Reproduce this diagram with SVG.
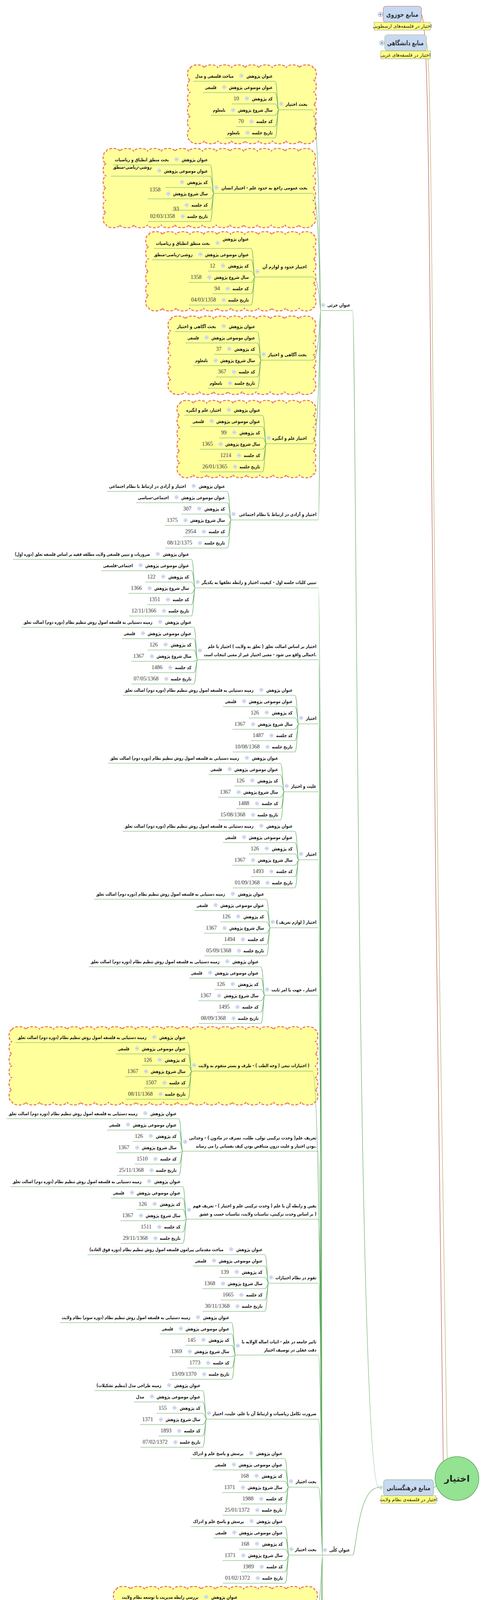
<svg xmlns="http://www.w3.org/2000/svg" width="1252" height="6545" viewBox="0 0 1252 6545">
<style>
.k{fill:none;stroke:#62ac62;stroke-width:1.2}
.cl{fill:#ffff9c;stroke:#ec7350;stroke-width:2.6;stroke-dasharray:7 4}
text{font-family:"DejaVu Sans",sans-serif;fill:#1a1a1a}
.l,.v,.t{font-size:11.5px;font-weight:bold;text-anchor:end}
.n{font-family:"Liberation Serif",serif;font-size:14px;text-anchor:end;fill:#333}
.h{font-size:17px;font-weight:bold;text-anchor:middle;fill:#333}
.o{font-size:12px;text-anchor:middle}
.r{font-size:23px;font-weight:bold;text-anchor:middle;fill:#222}
</style>
<defs>
<g id="m"><circle r="4.5" fill="#e2eaf8" stroke="#9cb3db" stroke-width="0.8"/><path d="M-2.2,0H2.2" stroke="#5a7bb5"/></g>
<g id="p"><circle r="6" fill="#e2eaf8" stroke="#7f9ccc"/><path d="M-3,0H3M0,-3V3" stroke="#3d5f9e" stroke-width="1.2"/></g>
<g id="ri"><use href="#m" x="-96" y="-73"/><use href="#m" x="-140" y="-44"/><use href="#m" x="-82" y="-15"/><use href="#m" x="-117" y="15"/><use href="#m" x="-70" y="44"/><use href="#m" x="-80" y="73"/></g>
<path id="b14" class="k" d="M-10,-59C-4,-59 -4,14 0,14M-10,-30C-4,-30 -4,14 0,14M-10,-1C-4,-1 -4,14 0,14M-10,28C-4,28 -4,14 0,14M-10,57C-4,57 -4,14 0,14M-10,86C-4,86 -4,14 0,14"/>
<path id="b24" class="k" d="M-10,-59C-4,-59 -4,24 0,24M-10,-30C-4,-30 -4,24 0,24M-10,-1C-4,-1 -4,24 0,24M-10,28C-4,28 -4,24 0,24M-10,57C-4,57 -4,24 0,24M-10,86C-4,86 -4,24 0,24"/>
<path id="b34" class="k" d="M-10,-59C-4,-59 -4,34 0,34M-10,-30C-4,-30 -4,34 0,34M-10,-1C-4,-1 -4,34 0,34M-10,28C-4,28 -4,34 0,34M-10,57C-4,57 -4,34 0,34M-10,86C-4,86 -4,34 0,34"/>
</defs>
<rect width="1252" height="6545" fill="#fff"/>

<g id="n1"><path class="cl" d="M488,174a17.44,8 0 0 1 34.89,0 17.44,8 0 0 1 34.89,0 17.44,8 0 0 1 34.89,0 17.44,8 0 0 1 34.89,0 17.44,8 0 0 1 34.89,0 17.44,8 0 0 1 34.89,0 17.44,8 0 0 1 34.89,0 17.44,8 0 0 1 34.89,0 17.44,8 0 0 1 34.89,0a8,15.5 0 0 1 0,31 8,15.5 0 0 1 0,31 8,15.5 0 0 1 0,31 8,15.5 0 0 1 0,31 8,15.5 0 0 1 0,31 8,15.5 0 0 1 0,31a17.44,8 0 0 1 -34.89,0 17.44,8 0 0 1 -34.89,0 17.44,8 0 0 1 -34.89,0 17.44,8 0 0 1 -34.89,0 17.44,8 0 0 1 -34.89,0 17.44,8 0 0 1 -34.89,0 17.44,8 0 0 1 -34.89,0 17.44,8 0 0 1 -34.89,0 17.44,8 0 0 1 -34.89,0a8,15.5 0 0 1 0,-31 8,15.5 0 0 1 0,-31 8,15.5 0 0 1 0,-31 8,15.5 0 0 1 0,-31 8,15.5 0 0 1 0,-31 8,15.5 0 0 1 0,-31z"/><g transform="translate(714,267)"><path class="k" d="M-219,-59H-10M-194,-30H-10M-121,-1H-10M-174,28H-10M-109,57H-10M-137,86H-10M0,14H86"/><use href="#b14"/><use href="#ri"/><use href="#m" x="6" y="-1"/><text class="t" x="73" y="3.5" textLength="56" lengthAdjust="spacingAndGlyphs">بحث اختیار</text><text class="l" x="-16" y="-68" textLength="67" lengthAdjust="spacingAndGlyphs">عنوان پژوهش</text><text class="l" x="-16" y="-39" textLength="112" lengthAdjust="spacingAndGlyphs">عنوان موضوعی پژوهش</text><text class="l" x="-16" y="-10" textLength="53" lengthAdjust="spacingAndGlyphs">کد پژوهش</text><text class="l" x="-16" y="19" textLength="89" lengthAdjust="spacingAndGlyphs">سال شروع پژوهش</text><text class="l" x="-16" y="48" textLength="42" lengthAdjust="spacingAndGlyphs">کد جلسه</text><text class="l" x="-16" y="77" textLength="53" lengthAdjust="spacingAndGlyphs">تاریخ جلسه</text><text class="v" x="-116" y="-68" textLength="98" lengthAdjust="spacingAndGlyphs">مباحث فلسفی و مدل</text><text class="v" x="-160" y="-39" textLength="29" lengthAdjust="spacingAndGlyphs">فلسفی</text><text class="n" x="-102" y="-10">10</text><text class="v" x="-137" y="19" textLength="32" lengthAdjust="spacingAndGlyphs">نامعلوم</text><text class="n" x="-90" y="48">70</text><text class="v" x="-100" y="77" textLength="32" lengthAdjust="spacingAndGlyphs">نامعلوم</text></g></g>

<g id="n2"><path class="cl" d="M272,388a17.6,8 0 0 1 35.2,0 17.6,8 0 0 1 35.2,0 17.6,8 0 0 1 35.2,0 17.6,8 0 0 1 35.2,0 17.6,8 0 0 1 35.2,0 17.6,8 0 0 1 35.2,0 17.6,8 0 0 1 35.2,0 17.6,8 0 0 1 35.2,0 17.6,8 0 0 1 35.2,0 17.6,8 0 0 1 35.2,0 17.6,8 0 0 1 35.2,0 17.6,8 0 0 1 35.2,0 17.6,8 0 0 1 35.2,0 17.6,8 0 0 1 35.2,0 17.6,8 0 0 1 35.2,0a8,15.58 0 0 1 0,31.17 8,15.58 0 0 1 0,31.17 8,15.58 0 0 1 0,31.17 8,15.58 0 0 1 0,31.17 8,15.58 0 0 1 0,31.17 8,15.58 0 0 1 0,31.17a17.6,8 0 0 1 -35.2,0 17.6,8 0 0 1 -35.2,0 17.6,8 0 0 1 -35.2,0 17.6,8 0 0 1 -35.2,0 17.6,8 0 0 1 -35.2,0 17.6,8 0 0 1 -35.2,0 17.6,8 0 0 1 -35.2,0 17.6,8 0 0 1 -35.2,0 17.6,8 0 0 1 -35.2,0 17.6,8 0 0 1 -35.2,0 17.6,8 0 0 1 -35.2,0 17.6,8 0 0 1 -35.2,0 17.6,8 0 0 1 -35.2,0 17.6,8 0 0 1 -35.2,0 17.6,8 0 0 1 -35.2,0a8,15.58 0 0 1 0,-31.17 8,15.58 0 0 1 0,-31.17 8,15.58 0 0 1 0,-31.17 8,15.58 0 0 1 0,-31.17 8,15.58 0 0 1 0,-31.17 8,15.58 0 0 1 0,-31.17z"/><g transform="translate(548,481)"><path class="k" d="M-259,-59H-10M-264,-30H-10M-124,-1H-10M-170,28H-10M-109,57H-10M-169,86H-10M0,14H252"/><use href="#b14"/><use href="#ri"/><use href="#m" x="6" y="-1"/><text class="t" x="239" y="3.5" textLength="220" lengthAdjust="spacingAndGlyphs">بحث عمومی راجع به حدود علم - اختیار انسان</text><text class="l" x="-16" y="-68" textLength="67" lengthAdjust="spacingAndGlyphs">عنوان پژوهش</text><text class="l" x="-16" y="-39" textLength="112" lengthAdjust="spacingAndGlyphs">عنوان موضوعی پژوهش</text><text class="l" x="-16" y="-10" textLength="53" lengthAdjust="spacingAndGlyphs">کد پژوهش</text><text class="l" x="-16" y="19" textLength="89" lengthAdjust="spacingAndGlyphs">سال شروع پژوهش</text><text class="l" x="-16" y="48" textLength="42" lengthAdjust="spacingAndGlyphs">کد جلسه</text><text class="l" x="-16" y="77" textLength="53" lengthAdjust="spacingAndGlyphs">تاریخ جلسه</text><text class="v" x="-116" y="-68" textLength="138" lengthAdjust="spacingAndGlyphs">بحث منطق انطباق و ریاضیات</text><text class="v" x="-160" y="-49" textLength="99" lengthAdjust="spacingAndGlyphs">روشی-ریاضی-منطق</text><text class="n" x="-137" y="9">1358</text><text class="n" x="-90" y="58">93</text><text class="n" x="-100" y="77">02/03/1358</text></g></g>

<g id="n3"><path class="cl" d="M381,601a17.5,8 0 0 1 35,0 17.5,8 0 0 1 35,0 17.5,8 0 0 1 35,0 17.5,8 0 0 1 35,0 17.5,8 0 0 1 35,0 17.5,8 0 0 1 35,0 17.5,8 0 0 1 35,0 17.5,8 0 0 1 35,0 17.5,8 0 0 1 35,0 17.5,8 0 0 1 35,0 17.5,8 0 0 1 35,0 17.5,8 0 0 1 35,0a8,15.58 0 0 1 0,31.17 8,15.58 0 0 1 0,31.17 8,15.58 0 0 1 0,31.17 8,15.58 0 0 1 0,31.17 8,15.58 0 0 1 0,31.17 8,15.58 0 0 1 0,31.17a17.5,8 0 0 1 -35,0 17.5,8 0 0 1 -35,0 17.5,8 0 0 1 -35,0 17.5,8 0 0 1 -35,0 17.5,8 0 0 1 -35,0 17.5,8 0 0 1 -35,0 17.5,8 0 0 1 -35,0 17.5,8 0 0 1 -35,0 17.5,8 0 0 1 -35,0 17.5,8 0 0 1 -35,0 17.5,8 0 0 1 -35,0 17.5,8 0 0 1 -35,0a8,15.58 0 0 1 0,-31.17 8,15.58 0 0 1 0,-31.17 8,15.58 0 0 1 0,-31.17 8,15.58 0 0 1 0,-31.17 8,15.58 0 0 1 0,-31.17 8,15.58 0 0 1 0,-31.17z"/><g transform="translate(653,695)"><path class="k" d="M-259,-59H-10M-264,-30H-10M-121,-1H-10M-170,28H-10M-109,57H-10M-169,86H-10M0,14H147"/><use href="#b14"/><use href="#ri"/><use href="#m" x="6" y="0"/><text class="t" x="132" y="-8.5" textLength="113" lengthAdjust="spacingAndGlyphs">اختیار حدود و لوازم آن</text><text class="l" x="-16" y="-79" textLength="67" lengthAdjust="spacingAndGlyphs">عنوان پژوهش</text><text class="l" x="-16" y="-39" textLength="112" lengthAdjust="spacingAndGlyphs">عنوان موضوعی پژوهش</text><text class="l" x="-16" y="-10" textLength="53" lengthAdjust="spacingAndGlyphs">کد پژوهش</text><text class="l" x="-16" y="19" textLength="89" lengthAdjust="spacingAndGlyphs">سال شروع پژوهش</text><text class="l" x="-16" y="48" textLength="42" lengthAdjust="spacingAndGlyphs">کد جلسه</text><text class="l" x="-16" y="77" textLength="53" lengthAdjust="spacingAndGlyphs">تاریخ جلسه</text><text class="v" x="-116" y="-68" textLength="138" lengthAdjust="spacingAndGlyphs">بحث منطق انطباق و ریاضیات</text><text class="v" x="-160" y="-39" textLength="99" lengthAdjust="spacingAndGlyphs">روشی-ریاضی-منطق</text><text class="n" x="-102" y="-10">12</text><text class="n" x="-137" y="19">1358</text><text class="n" x="-90" y="48">94</text><text class="n" x="-100" y="77">04/03/1358</text></g></g>

<g id="n4"><path class="cl" d="M438,817a18.15,8 0 0 1 36.3,0 18.15,8 0 0 1 36.3,0 18.15,8 0 0 1 36.3,0 18.15,8 0 0 1 36.3,0 18.15,8 0 0 1 36.3,0 18.15,8 0 0 1 36.3,0 18.15,8 0 0 1 36.3,0 18.15,8 0 0 1 36.3,0 18.15,8 0 0 1 36.3,0 18.15,8 0 0 1 36.3,0a8,15.42 0 0 1 0,30.83 8,15.42 0 0 1 0,30.83 8,15.42 0 0 1 0,30.83 8,15.42 0 0 1 0,30.83 8,15.42 0 0 1 0,30.83 8,15.42 0 0 1 0,30.83a18.15,8 0 0 1 -36.3,0 18.15,8 0 0 1 -36.3,0 18.15,8 0 0 1 -36.3,0 18.15,8 0 0 1 -36.3,0 18.15,8 0 0 1 -36.3,0 18.15,8 0 0 1 -36.3,0 18.15,8 0 0 1 -36.3,0 18.15,8 0 0 1 -36.3,0 18.15,8 0 0 1 -36.3,0 18.15,8 0 0 1 -36.3,0a8,15.42 0 0 1 0,-30.83 8,15.42 0 0 1 0,-30.83 8,15.42 0 0 1 0,-30.83 8,15.42 0 0 1 0,-30.83 8,15.42 0 0 1 0,-30.83 8,15.42 0 0 1 0,-30.83z"/><g transform="translate(669,908)"><path class="k" d="M-221,-59H-10M-194,-30H-10M-121,-1H-10M-174,28H-10M-116,57H-10M-137,86H-10M0,14H131"/><use href="#b14"/><use href="#ri"/><use href="#m" x="6" y="-1"/><text class="t" x="116" y="3.5" textLength="99" lengthAdjust="spacingAndGlyphs">بحث آگاهی و اختیار</text><text class="l" x="-16" y="-68" textLength="67" lengthAdjust="spacingAndGlyphs">عنوان پژوهش</text><text class="l" x="-16" y="-39" textLength="112" lengthAdjust="spacingAndGlyphs">عنوان موضوعی پژوهش</text><text class="l" x="-16" y="-10" textLength="53" lengthAdjust="spacingAndGlyphs">کد پژوهش</text><text class="l" x="-16" y="19" textLength="89" lengthAdjust="spacingAndGlyphs">سال شروع پژوهش</text><text class="l" x="-16" y="48" textLength="42" lengthAdjust="spacingAndGlyphs">کد جلسه</text><text class="l" x="-16" y="77" textLength="53" lengthAdjust="spacingAndGlyphs">تاریخ جلسه</text><text class="v" x="-116" y="-68" textLength="100" lengthAdjust="spacingAndGlyphs">بحث آگاهی و اختیار</text><text class="v" x="-160" y="-39" textLength="29" lengthAdjust="spacingAndGlyphs">فلسفی</text><text class="n" x="-102" y="-10">37</text><text class="v" x="-137" y="19" textLength="32" lengthAdjust="spacingAndGlyphs">نامعلوم</text><text class="n" x="-90" y="48">367</text><text class="v" x="-100" y="77" textLength="32" lengthAdjust="spacingAndGlyphs">نامعلوم</text></g></g>

<g id="n5"><path class="cl" d="M461,1033a17,8 0 0 1 34,0 17,8 0 0 1 34,0 17,8 0 0 1 34,0 17,8 0 0 1 34,0 17,8 0 0 1 34,0 17,8 0 0 1 34,0 17,8 0 0 1 34,0 17,8 0 0 1 34,0 17,8 0 0 1 34,0 17,8 0 0 1 34,0a8,15.17 0 0 1 0,30.33 8,15.17 0 0 1 0,30.33 8,15.17 0 0 1 0,30.33 8,15.17 0 0 1 0,30.33 8,15.17 0 0 1 0,30.33 8,15.17 0 0 1 0,30.33a17,8 0 0 1 -34,0 17,8 0 0 1 -34,0 17,8 0 0 1 -34,0 17,8 0 0 1 -34,0 17,8 0 0 1 -34,0 17,8 0 0 1 -34,0 17,8 0 0 1 -34,0 17,8 0 0 1 -34,0 17,8 0 0 1 -34,0 17,8 0 0 1 -34,0a8,15.17 0 0 1 0,-30.33 8,15.17 0 0 1 0,-30.33 8,15.17 0 0 1 0,-30.33 8,15.17 0 0 1 0,-30.33 8,15.17 0 0 1 0,-30.33 8,15.17 0 0 1 0,-30.33z"/><g transform="translate(682,1122)"><path class="k" d="M-210,-59H-10M-194,-30H-10M-121,-1H-10M-170,28H-10M-123,57H-10M-169,86H-10M0,14H118"/><use href="#b14"/><use href="#ri"/><use href="#m" x="6" y="-1"/><text class="t" x="103" y="3.5" textLength="88" lengthAdjust="spacingAndGlyphs">اختیار علم و انگیزه</text><text class="l" x="-16" y="-68" textLength="67" lengthAdjust="spacingAndGlyphs">عنوان پژوهش</text><text class="l" x="-16" y="-39" textLength="112" lengthAdjust="spacingAndGlyphs">عنوان موضوعی پژوهش</text><text class="l" x="-16" y="-10" textLength="53" lengthAdjust="spacingAndGlyphs">کد پژوهش</text><text class="l" x="-16" y="19" textLength="89" lengthAdjust="spacingAndGlyphs">سال شروع پژوهش</text><text class="l" x="-16" y="48" textLength="42" lengthAdjust="spacingAndGlyphs">کد جلسه</text><text class="l" x="-16" y="77" textLength="53" lengthAdjust="spacingAndGlyphs">تاریخ جلسه</text><text class="v" x="-116" y="-68" textLength="89" lengthAdjust="spacingAndGlyphs">اختیار، علم و انگیزه</text><text class="v" x="-160" y="-39" textLength="29" lengthAdjust="spacingAndGlyphs">فلسفی</text><text class="n" x="-102" y="-10">99</text><text class="n" x="-137" y="19">1365</text><text class="n" x="-90" y="48">1214</text><text class="n" x="-100" y="77">26/01/1365</text></g></g>

<g id="n6" transform="translate(592,1317)"><path class="k" d="M-318,-59H-10M-244,-30H-10M-128,-1H-10M-170,28H-10M-123,57H-10M-169,86H-10M0,14H223"/><use href="#b14"/><use href="#ri"/><use href="#m" x="6" y="-1"/><text class="t" x="218" y="3.5" textLength="198" lengthAdjust="spacingAndGlyphs">اختیار و آزادی در ارتباط با نظام اجتماعی</text><text class="l" x="-16" y="-68" textLength="67" lengthAdjust="spacingAndGlyphs">عنوان پژوهش</text><text class="l" x="-16" y="-39" textLength="112" lengthAdjust="spacingAndGlyphs">عنوان موضوعی پژوهش</text><text class="l" x="-16" y="-10" textLength="53" lengthAdjust="spacingAndGlyphs">کد پژوهش</text><text class="l" x="-16" y="19" textLength="89" lengthAdjust="spacingAndGlyphs">سال شروع پژوهش</text><text class="l" x="-16" y="48" textLength="42" lengthAdjust="spacingAndGlyphs">کد جلسه</text><text class="l" x="-16" y="77" textLength="53" lengthAdjust="spacingAndGlyphs">تاریخ جلسه</text><text class="v" x="-116" y="-68" textLength="197" lengthAdjust="spacingAndGlyphs">اختیار و آزادی در ارتباط با نظام اجتماعی</text><text class="v" x="-160" y="-39" textLength="79" lengthAdjust="spacingAndGlyphs">اجتماعی-سیاسی</text><text class="n" x="-102" y="-10">307</text><text class="n" x="-137" y="19">1375</text><text class="n" x="-90" y="48">2954</text><text class="n" x="-100" y="77">08/12/1375</text></g>

<g id="n7" transform="translate(500,1491)"><path class="k" d="M-467,-59H-10M-241,-30H-10M-128,-1H-10M-170,28H-10M-123,57H-10M-169,86H-10M0,14H315"/><use href="#b14"/><use href="#ri"/><use href="#m" x="6" y="-1"/><text class="t" x="310" y="3.5" textLength="294" lengthAdjust="spacingAndGlyphs">تبیین کلیات جلسه اول - کیفیت اختیار و رابطه تعلقها به یکدیگر</text><text class="l" x="-16" y="-68" textLength="67" lengthAdjust="spacingAndGlyphs">عنوان پژوهش</text><text class="l" x="-16" y="-39" textLength="112" lengthAdjust="spacingAndGlyphs">عنوان موضوعی پژوهش</text><text class="l" x="-16" y="-10" textLength="53" lengthAdjust="spacingAndGlyphs">کد پژوهش</text><text class="l" x="-16" y="19" textLength="89" lengthAdjust="spacingAndGlyphs">سال شروع پژوهش</text><text class="l" x="-16" y="48" textLength="42" lengthAdjust="spacingAndGlyphs">کد جلسه</text><text class="l" x="-16" y="77" textLength="53" lengthAdjust="spacingAndGlyphs">تاریخ جلسه</text><text class="v" x="-116" y="-68" textLength="346" lengthAdjust="spacingAndGlyphs">ضروریات و تبیین فلسفی ولایت مطلقه فقیه بر اساس فلسفه تعلق (دوره اول)</text><text class="v" x="-160" y="-39" textLength="76" lengthAdjust="spacingAndGlyphs">اجتماعی-فلسفی</text><text class="n" x="-102" y="-10">122</text><text class="n" x="-137" y="19">1366</text><text class="n" x="-90" y="48">1351</text><text class="n" x="-100" y="77">12/11/1366</text></g>

<g id="n8" transform="translate(506,1665)"><path class="k" d="M-451,-59H-10M-194,-30H-10M-128,-1H-10M-170,28H-10M-123,57H-10M-169,86H-10M0,24H309"/><use href="#b24"/><use href="#ri"/><use href="#m" x="6" y="0"/><text class="t" x="304" y="-6.5" textLength="278" lengthAdjust="spacingAndGlyphs">اختیار بر اساس اصالت تعلق ( تعلق به ولایت ) اختیار با علم</text><text class="t" x="304" y="14.5" textLength="288" lengthAdjust="spacingAndGlyphs">اجمالی واقع می شود - معنی اختیار غیر از معنی انتخاب است.</text><text class="l" x="-16" y="-68" textLength="67" lengthAdjust="spacingAndGlyphs">عنوان پژوهش</text><text class="l" x="-16" y="-39" textLength="112" lengthAdjust="spacingAndGlyphs">عنوان موضوعی پژوهش</text><text class="l" x="-16" y="-10" textLength="53" lengthAdjust="spacingAndGlyphs">کد پژوهش</text><text class="l" x="-16" y="19" textLength="89" lengthAdjust="spacingAndGlyphs">سال شروع پژوهش</text><text class="l" x="-16" y="48" textLength="42" lengthAdjust="spacingAndGlyphs">کد جلسه</text><text class="l" x="-16" y="77" textLength="53" lengthAdjust="spacingAndGlyphs">تاریخ جلسه</text><text class="v" x="-116" y="-68" textLength="330" lengthAdjust="spacingAndGlyphs">زمینه دستیابی به فلسفه اصول روش تنظیم نظام (دوره دوم) اصالت تعلق</text><text class="v" x="-160" y="-39" textLength="29" lengthAdjust="spacingAndGlyphs">فلسفی</text><text class="n" x="-102" y="-10">126</text><text class="n" x="-137" y="19">1367</text><text class="n" x="-90" y="48">1486</text><text class="n" x="-100" y="77">07/05/1368</text></g>

<g id="n9" transform="translate(765,1839)"><path class="k" d="M-451,-59H-10M-194,-30H-10M-128,-1H-10M-170,28H-10M-123,57H-10M-169,86H-10M0,14H50"/><use href="#b14"/><use href="#ri"/><use href="#m" x="6" y="-1"/><text class="t" x="45" y="3.5" textLength="27" lengthAdjust="spacingAndGlyphs">اختیار</text><text class="l" x="-16" y="-68" textLength="67" lengthAdjust="spacingAndGlyphs">عنوان پژوهش</text><text class="l" x="-16" y="-39" textLength="112" lengthAdjust="spacingAndGlyphs">عنوان موضوعی پژوهش</text><text class="l" x="-16" y="-10" textLength="53" lengthAdjust="spacingAndGlyphs">کد پژوهش</text><text class="l" x="-16" y="19" textLength="89" lengthAdjust="spacingAndGlyphs">سال شروع پژوهش</text><text class="l" x="-16" y="48" textLength="42" lengthAdjust="spacingAndGlyphs">کد جلسه</text><text class="l" x="-16" y="77" textLength="53" lengthAdjust="spacingAndGlyphs">تاریخ جلسه</text><text class="v" x="-116" y="-68" textLength="330" lengthAdjust="spacingAndGlyphs">زمینه دستیابی به فلسفه اصول روش تنظیم نظام (دوره دوم) اصالت تعلق</text><text class="v" x="-160" y="-39" textLength="29" lengthAdjust="spacingAndGlyphs">فلسفی</text><text class="n" x="-102" y="-10">126</text><text class="n" x="-137" y="19">1367</text><text class="n" x="-90" y="48">1487</text><text class="n" x="-100" y="77">10/08/1368</text></g>

<g id="n10" transform="translate(728,2013)"><path class="k" d="M-451,-59H-10M-194,-30H-10M-128,-1H-10M-170,28H-10M-123,57H-10M-169,86H-10M0,14H87"/><use href="#b14"/><use href="#ri"/><use href="#m" x="6" y="-1"/><text class="t" x="82" y="3.5" textLength="65" lengthAdjust="spacingAndGlyphs">علیت و اختیار</text><text class="l" x="-16" y="-68" textLength="67" lengthAdjust="spacingAndGlyphs">عنوان پژوهش</text><text class="l" x="-16" y="-39" textLength="112" lengthAdjust="spacingAndGlyphs">عنوان موضوعی پژوهش</text><text class="l" x="-16" y="-10" textLength="53" lengthAdjust="spacingAndGlyphs">کد پژوهش</text><text class="l" x="-16" y="19" textLength="89" lengthAdjust="spacingAndGlyphs">سال شروع پژوهش</text><text class="l" x="-16" y="48" textLength="42" lengthAdjust="spacingAndGlyphs">کد جلسه</text><text class="l" x="-16" y="77" textLength="53" lengthAdjust="spacingAndGlyphs">تاریخ جلسه</text><text class="v" x="-116" y="-68" textLength="330" lengthAdjust="spacingAndGlyphs">زمینه دستیابی به فلسفه اصول روش تنظیم نظام (دوره دوم) اصالت تعلق</text><text class="v" x="-160" y="-39" textLength="29" lengthAdjust="spacingAndGlyphs">فلسفی</text><text class="n" x="-102" y="-10">126</text><text class="n" x="-137" y="19">1367</text><text class="n" x="-90" y="48">1488</text><text class="n" x="-100" y="77">15/08/1368</text></g>

<g id="n11" transform="translate(765,2187)"><path class="k" d="M-451,-59H-10M-194,-30H-10M-128,-1H-10M-170,28H-10M-123,57H-10M-169,86H-10M0,14H50"/><use href="#b14"/><use href="#ri"/><use href="#m" x="6" y="-1"/><text class="t" x="45" y="3.5" textLength="27" lengthAdjust="spacingAndGlyphs">اختیار</text><text class="l" x="-16" y="-68" textLength="67" lengthAdjust="spacingAndGlyphs">عنوان پژوهش</text><text class="l" x="-16" y="-39" textLength="112" lengthAdjust="spacingAndGlyphs">عنوان موضوعی پژوهش</text><text class="l" x="-16" y="-10" textLength="53" lengthAdjust="spacingAndGlyphs">کد پژوهش</text><text class="l" x="-16" y="19" textLength="89" lengthAdjust="spacingAndGlyphs">سال شروع پژوهش</text><text class="l" x="-16" y="48" textLength="42" lengthAdjust="spacingAndGlyphs">کد جلسه</text><text class="l" x="-16" y="77" textLength="53" lengthAdjust="spacingAndGlyphs">تاریخ جلسه</text><text class="v" x="-116" y="-68" textLength="330" lengthAdjust="spacingAndGlyphs">زمینه دستیابی به فلسفه اصول روش تنظیم نظام (دوره دوم) اصالت تعلق</text><text class="v" x="-160" y="-39" textLength="29" lengthAdjust="spacingAndGlyphs">فلسفی</text><text class="n" x="-102" y="-10">126</text><text class="n" x="-137" y="19">1367</text><text class="n" x="-90" y="48">1493</text><text class="n" x="-100" y="77">01/09/1368</text></g>

<g id="n12" transform="translate(692,2361)"><path class="k" d="M-451,-59H-10M-194,-30H-10M-128,-1H-10M-170,28H-10M-123,57H-10M-169,86H-10M0,14H123"/><use href="#b14"/><use href="#ri"/><use href="#m" x="6" y="-1"/><text class="t" x="118" y="3.5" textLength="103" lengthAdjust="spacingAndGlyphs">اختیار ( لوازم تعریف )</text><text class="l" x="-16" y="-68" textLength="67" lengthAdjust="spacingAndGlyphs">عنوان پژوهش</text><text class="l" x="-16" y="-39" textLength="112" lengthAdjust="spacingAndGlyphs">عنوان موضوعی پژوهش</text><text class="l" x="-16" y="-10" textLength="53" lengthAdjust="spacingAndGlyphs">کد پژوهش</text><text class="l" x="-16" y="19" textLength="89" lengthAdjust="spacingAndGlyphs">سال شروع پژوهش</text><text class="l" x="-16" y="48" textLength="42" lengthAdjust="spacingAndGlyphs">کد جلسه</text><text class="l" x="-16" y="77" textLength="53" lengthAdjust="spacingAndGlyphs">تاریخ جلسه</text><text class="v" x="-116" y="-68" textLength="330" lengthAdjust="spacingAndGlyphs">زمینه دستیابی به فلسفه اصول روش تنظیم نظام (دوره دوم) اصالت تعلق</text><text class="v" x="-160" y="-39" textLength="29" lengthAdjust="spacingAndGlyphs">فلسفی</text><text class="n" x="-102" y="-10">126</text><text class="n" x="-137" y="19">1367</text><text class="n" x="-90" y="48">1494</text><text class="n" x="-100" y="77">05/09/1368</text></g>

<g id="n13" transform="translate(678,2534)"><path class="k" d="M-451,-59H-10M-194,-30H-10M-128,-1H-10M-170,28H-10M-123,57H-10M-169,86H-10M0,14H137"/><use href="#b14"/><use href="#ri"/><use href="#m" x="6" y="-1"/><text class="t" x="132" y="3.5" textLength="115" lengthAdjust="spacingAndGlyphs">اختیار ، جهت یا امر ثابت</text><text class="l" x="-16" y="-68" textLength="67" lengthAdjust="spacingAndGlyphs">عنوان پژوهش</text><text class="l" x="-16" y="-39" textLength="112" lengthAdjust="spacingAndGlyphs">عنوان موضوعی پژوهش</text><text class="l" x="-16" y="-10" textLength="53" lengthAdjust="spacingAndGlyphs">کد پژوهش</text><text class="l" x="-16" y="19" textLength="89" lengthAdjust="spacingAndGlyphs">سال شروع پژوهش</text><text class="l" x="-16" y="48" textLength="42" lengthAdjust="spacingAndGlyphs">کد جلسه</text><text class="l" x="-16" y="77" textLength="53" lengthAdjust="spacingAndGlyphs">تاریخ جلسه</text><text class="v" x="-116" y="-68" textLength="330" lengthAdjust="spacingAndGlyphs">زمینه دستیابی به فلسفه اصول روش تنظیم نظام (دوره دوم) اصالت تعلق</text><text class="v" x="-160" y="-39" textLength="29" lengthAdjust="spacingAndGlyphs">فلسفی</text><text class="n" x="-102" y="-10">126</text><text class="n" x="-137" y="19">1367</text><text class="n" x="-90" y="48">1495</text><text class="n" x="-100" y="77">08/09/1368</text></g>

<g id="n14"><path class="cl" d="M31,2636a17.62,8 0 0 1 35.23,0 17.62,8 0 0 1 35.23,0 17.62,8 0 0 1 35.23,0 17.62,8 0 0 1 35.23,0 17.62,8 0 0 1 35.23,0 17.62,8 0 0 1 35.23,0 17.62,8 0 0 1 35.23,0 17.62,8 0 0 1 35.23,0 17.62,8 0 0 1 35.23,0 17.62,8 0 0 1 35.23,0 17.62,8 0 0 1 35.23,0 17.62,8 0 0 1 35.23,0 17.62,8 0 0 1 35.23,0 17.62,8 0 0 1 35.23,0 17.62,8 0 0 1 35.23,0 17.62,8 0 0 1 35.23,0 17.62,8 0 0 1 35.23,0 17.62,8 0 0 1 35.23,0 17.62,8 0 0 1 35.23,0 17.62,8 0 0 1 35.23,0 17.62,8 0 0 1 35.23,0 17.62,8 0 0 1 35.23,0a8,15.42 0 0 1 0,30.83 8,15.42 0 0 1 0,30.83 8,15.42 0 0 1 0,30.83 8,15.42 0 0 1 0,30.83 8,15.42 0 0 1 0,30.83 8,15.42 0 0 1 0,30.83a17.62,8 0 0 1 -35.23,0 17.62,8 0 0 1 -35.23,0 17.62,8 0 0 1 -35.23,0 17.62,8 0 0 1 -35.23,0 17.62,8 0 0 1 -35.23,0 17.62,8 0 0 1 -35.23,0 17.62,8 0 0 1 -35.23,0 17.62,8 0 0 1 -35.23,0 17.62,8 0 0 1 -35.23,0 17.62,8 0 0 1 -35.23,0 17.62,8 0 0 1 -35.23,0 17.62,8 0 0 1 -35.23,0 17.62,8 0 0 1 -35.23,0 17.62,8 0 0 1 -35.23,0 17.62,8 0 0 1 -35.23,0 17.62,8 0 0 1 -35.23,0 17.62,8 0 0 1 -35.23,0 17.62,8 0 0 1 -35.23,0 17.62,8 0 0 1 -35.23,0 17.62,8 0 0 1 -35.23,0 17.62,8 0 0 1 -35.23,0 17.62,8 0 0 1 -35.23,0a8,15.42 0 0 1 0,-30.83 8,15.42 0 0 1 0,-30.83 8,15.42 0 0 1 0,-30.83 8,15.42 0 0 1 0,-30.83 8,15.42 0 0 1 0,-30.83 8,15.42 0 0 1 0,-30.83z"/><g transform="translate(491,2728)"><path class="k" d="M-451,-59H-10M-194,-30H-10M-128,-1H-10M-170,28H-10M-123,57H-10M-169,86H-10M0,14H309"/><use href="#b14"/><use href="#ri"/><use href="#m" x="6" y="-1"/><text class="t" x="301" y="3.5" textLength="284" lengthAdjust="spacingAndGlyphs">اختیارات تبعی ( وجه الطب ) - ظرف و بستر متقوم به ولایت )</text><text class="l" x="-16" y="-68" textLength="67" lengthAdjust="spacingAndGlyphs">عنوان پژوهش</text><text class="l" x="-16" y="-39" textLength="112" lengthAdjust="spacingAndGlyphs">عنوان موضوعی پژوهش</text><text class="l" x="-16" y="-10" textLength="53" lengthAdjust="spacingAndGlyphs">کد پژوهش</text><text class="l" x="-16" y="19" textLength="89" lengthAdjust="spacingAndGlyphs">سال شروع پژوهش</text><text class="l" x="-16" y="48" textLength="42" lengthAdjust="spacingAndGlyphs">کد جلسه</text><text class="l" x="-16" y="77" textLength="53" lengthAdjust="spacingAndGlyphs">تاریخ جلسه</text><text class="v" x="-116" y="-68" textLength="330" lengthAdjust="spacingAndGlyphs">زمینه دستیابی به فلسفه اصول روش تنظیم نظام (دوره دوم) اصالت تعلق</text><text class="v" x="-160" y="-39" textLength="29" lengthAdjust="spacingAndGlyphs">فلسفی</text><text class="n" x="-102" y="-10">126</text><text class="n" x="-137" y="19">1367</text><text class="n" x="-90" y="48">1507</text><text class="n" x="-100" y="77">08/11/1368</text></g></g>

<g id="n15" transform="translate(468,2923)"><path class="k" d="M-451,-59H-10M-194,-30H-10M-128,-1H-10M-170,28H-10M-123,57H-10M-169,86H-10M0,24H347"/><use href="#b24"/><use href="#ri"/><use href="#m" x="6" y="0"/><text class="t" x="342" y="-6.5" textLength="326" lengthAdjust="spacingAndGlyphs">تعریف علم( وحدت ترکیبی تولی، طلب، تصرف در مادون ) - وجدانی</text><text class="t" x="342" y="14.5" textLength="309" lengthAdjust="spacingAndGlyphs">بودن اختیار و علیت درون متناقض بودن کیف نفسانی را می رساند.</text><text class="l" x="-16" y="-68" textLength="67" lengthAdjust="spacingAndGlyphs">عنوان پژوهش</text><text class="l" x="-16" y="-39" textLength="112" lengthAdjust="spacingAndGlyphs">عنوان موضوعی پژوهش</text><text class="l" x="-16" y="-10" textLength="53" lengthAdjust="spacingAndGlyphs">کد پژوهش</text><text class="l" x="-16" y="19" textLength="89" lengthAdjust="spacingAndGlyphs">سال شروع پژوهش</text><text class="l" x="-16" y="48" textLength="42" lengthAdjust="spacingAndGlyphs">کد جلسه</text><text class="l" x="-16" y="77" textLength="53" lengthAdjust="spacingAndGlyphs">تاریخ جلسه</text><text class="v" x="-116" y="-68" textLength="330" lengthAdjust="spacingAndGlyphs">زمینه دستیابی به فلسفه اصول روش تنظیم نظام (دوره دوم) اصالت تعلق</text><text class="v" x="-160" y="-39" textLength="29" lengthAdjust="spacingAndGlyphs">فلسفی</text><text class="n" x="-102" y="-10">126</text><text class="n" x="-137" y="19">1367</text><text class="n" x="-90" y="48">1510</text><text class="n" x="-100" y="77">25/11/1368</text></g>

<g id="n16" transform="translate(478,3097)"><path class="k" d="M-451,-59H-10M-194,-30H-10M-128,-1H-10M-170,28H-10M-123,57H-10M-169,86H-10M0,24H337"/><use href="#b24"/><use href="#ri"/><use href="#m" x="6" y="0"/><text class="t" x="332" y="-6.5" textLength="316" lengthAdjust="spacingAndGlyphs">یقین و رابطه آن با علم ( وحدت ترکیبی علم و اختیار ) - تعریف فهم</text><text class="t" x="332" y="14.5" textLength="300" lengthAdjust="spacingAndGlyphs">بر اساس وحدت ترکیبی، تناسبات ولایت، تناسبات حسب و عشق )</text><text class="l" x="-16" y="-68" textLength="67" lengthAdjust="spacingAndGlyphs">عنوان پژوهش</text><text class="l" x="-16" y="-39" textLength="112" lengthAdjust="spacingAndGlyphs">عنوان موضوعی پژوهش</text><text class="l" x="-16" y="-10" textLength="53" lengthAdjust="spacingAndGlyphs">کد پژوهش</text><text class="l" x="-16" y="19" textLength="89" lengthAdjust="spacingAndGlyphs">سال شروع پژوهش</text><text class="l" x="-16" y="48" textLength="42" lengthAdjust="spacingAndGlyphs">کد جلسه</text><text class="l" x="-16" y="77" textLength="53" lengthAdjust="spacingAndGlyphs">تاریخ جلسه</text><text class="v" x="-116" y="-68" textLength="330" lengthAdjust="spacingAndGlyphs">زمینه دستیابی به فلسفه اصول روش تنظیم نظام (دوره دوم) اصالت تعلق</text><text class="v" x="-160" y="-39" textLength="29" lengthAdjust="spacingAndGlyphs">فلسفی</text><text class="n" x="-102" y="-10">126</text><text class="n" x="-137" y="19">1367</text><text class="n" x="-90" y="48">1511</text><text class="n" x="-100" y="77">29/11/1368</text></g>

<g id="n17" transform="translate(688,3271)"><path class="k" d="M-464,-59H-10M-194,-30H-10M-128,-1H-10M-170,28H-10M-123,57H-10M-169,86H-10M0,14H127"/><use href="#b14"/><use href="#ri"/><use href="#m" x="6" y="-1"/><text class="t" x="122" y="3.5" textLength="105" lengthAdjust="spacingAndGlyphs">تقوم در نظام اختیارات</text><text class="l" x="-16" y="-68" textLength="67" lengthAdjust="spacingAndGlyphs">عنوان پژوهش</text><text class="l" x="-16" y="-39" textLength="112" lengthAdjust="spacingAndGlyphs">عنوان موضوعی پژوهش</text><text class="l" x="-16" y="-10" textLength="53" lengthAdjust="spacingAndGlyphs">کد پژوهش</text><text class="l" x="-16" y="19" textLength="89" lengthAdjust="spacingAndGlyphs">سال شروع پژوهش</text><text class="l" x="-16" y="48" textLength="42" lengthAdjust="spacingAndGlyphs">کد جلسه</text><text class="l" x="-16" y="77" textLength="53" lengthAdjust="spacingAndGlyphs">تاریخ جلسه</text><text class="v" x="-116" y="-68" textLength="343" lengthAdjust="spacingAndGlyphs">مباحث مقدماتی پیرامون فلسفه اصول روش تنظیم نظام (دوره فوق العاده)</text><text class="v" x="-160" y="-39" textLength="29" lengthAdjust="spacingAndGlyphs">فلسفی</text><text class="n" x="-102" y="-10">139</text><text class="n" x="-137" y="19">1368</text><text class="n" x="-90" y="48">1665</text><text class="n" x="-100" y="77">30/11/1368</text></g>

<g id="n18" transform="translate(603,3445)"><path class="k" d="M-450,-59H-10M-194,-30H-10M-128,-1H-10M-170,28H-10M-123,57H-10M-169,86H-10M0,24H212"/><use href="#b24"/><use href="#ri"/><use href="#m" x="6" y="0"/><text class="t" x="207" y="-6.5" textLength="191" lengthAdjust="spacingAndGlyphs">تاثیر جامعه در علم - اثبات اصاله الولایه با</text><text class="t" x="207" y="14.5" textLength="134" lengthAdjust="spacingAndGlyphs">دقت عقلی در توصیف اختیار</text><text class="l" x="-16" y="-68" textLength="67" lengthAdjust="spacingAndGlyphs">عنوان پژوهش</text><text class="l" x="-16" y="-39" textLength="112" lengthAdjust="spacingAndGlyphs">عنوان موضوعی پژوهش</text><text class="l" x="-16" y="-10" textLength="53" lengthAdjust="spacingAndGlyphs">کد پژوهش</text><text class="l" x="-16" y="19" textLength="89" lengthAdjust="spacingAndGlyphs">سال شروع پژوهش</text><text class="l" x="-16" y="48" textLength="42" lengthAdjust="spacingAndGlyphs">کد جلسه</text><text class="l" x="-16" y="77" textLength="53" lengthAdjust="spacingAndGlyphs">تاریخ جلسه</text><text class="v" x="-116" y="-68" textLength="329" lengthAdjust="spacingAndGlyphs">زمینه دستیابی به فلسفه اصول روش تنظیم نظام (دوره سوم) نظام ولایت</text><text class="v" x="-160" y="-39" textLength="29" lengthAdjust="spacingAndGlyphs">فلسفی</text><text class="n" x="-102" y="-10">145</text><text class="n" x="-137" y="19">1369</text><text class="n" x="-90" y="48">1773</text><text class="n" x="-100" y="77">13/09/1370</text></g>

<g id="n19" transform="translate(529,3619)"><path class="k" d="M-287,-59H-10M-186,-30H-10M-128,-1H-10M-170,28H-10M-123,57H-10M-169,86H-10M0,14H286"/><use href="#b14"/><use href="#ri"/><use href="#m" x="6" y="-1"/><text class="t" x="281" y="3.5" textLength="266" lengthAdjust="spacingAndGlyphs">ضرورت تکامل ریاضیات و ارتباط آن با علم، علیت، اختیار</text><text class="l" x="-16" y="-68" textLength="67" lengthAdjust="spacingAndGlyphs">عنوان پژوهش</text><text class="l" x="-16" y="-39" textLength="112" lengthAdjust="spacingAndGlyphs">عنوان موضوعی پژوهش</text><text class="l" x="-16" y="-10" textLength="53" lengthAdjust="spacingAndGlyphs">کد پژوهش</text><text class="l" x="-16" y="19" textLength="89" lengthAdjust="spacingAndGlyphs">سال شروع پژوهش</text><text class="l" x="-16" y="48" textLength="42" lengthAdjust="spacingAndGlyphs">کد جلسه</text><text class="l" x="-16" y="77" textLength="53" lengthAdjust="spacingAndGlyphs">تاریخ جلسه</text><text class="v" x="-116" y="-68" textLength="166" lengthAdjust="spacingAndGlyphs">زمینه طراحی مدل (تنظیم تشکیلات)</text><text class="v" x="-160" y="-39" textLength="21" lengthAdjust="spacingAndGlyphs">مدل</text><text class="n" x="-102" y="-10">155</text><text class="n" x="-137" y="19">1371</text><text class="n" x="-90" y="48">1893</text><text class="n" x="-100" y="77">07/02/1372</text></g>

<g id="n20" transform="translate(739,3793)"><path class="k" d="M-251,-59H-10M-194,-30H-10M-128,-1H-10M-170,28H-10M-123,57H-10M-169,86H-10M0,14H76"/><use href="#b14"/><use href="#ri"/><use href="#m" x="6" y="-1"/><text class="t" x="71" y="3.5" textLength="53" lengthAdjust="spacingAndGlyphs">بحث اختیار</text><text class="l" x="-16" y="-68" textLength="67" lengthAdjust="spacingAndGlyphs">عنوان پژوهش</text><text class="l" x="-16" y="-39" textLength="112" lengthAdjust="spacingAndGlyphs">عنوان موضوعی پژوهش</text><text class="l" x="-16" y="-10" textLength="53" lengthAdjust="spacingAndGlyphs">کد پژوهش</text><text class="l" x="-16" y="19" textLength="89" lengthAdjust="spacingAndGlyphs">سال شروع پژوهش</text><text class="l" x="-16" y="48" textLength="42" lengthAdjust="spacingAndGlyphs">کد جلسه</text><text class="l" x="-16" y="77" textLength="53" lengthAdjust="spacingAndGlyphs">تاریخ جلسه</text><text class="v" x="-116" y="-68" textLength="130" lengthAdjust="spacingAndGlyphs">پرسش و پاسخ علم و ادراک</text><text class="v" x="-160" y="-39" textLength="29" lengthAdjust="spacingAndGlyphs">فلسفی</text><text class="n" x="-102" y="-10">168</text><text class="n" x="-137" y="19">1371</text><text class="n" x="-90" y="48">1988</text><text class="n" x="-100" y="77">25/01/1372</text></g>

<g id="n21" transform="translate(740,3967)"><path class="k" d="M-251,-59H-10M-194,-30H-10M-128,-1H-10M-170,28H-10M-123,57H-10M-169,86H-10M0,14H86"/><use href="#b14"/><use href="#ri"/><use href="#m" x="6" y="-1"/><text class="t" x="70" y="3.5" textLength="55" lengthAdjust="spacingAndGlyphs">بحث اختیار</text><text class="l" x="-16" y="-68" textLength="67" lengthAdjust="spacingAndGlyphs">عنوان پژوهش</text><text class="l" x="-16" y="-39" textLength="112" lengthAdjust="spacingAndGlyphs">عنوان موضوعی پژوهش</text><text class="l" x="-16" y="-10" textLength="53" lengthAdjust="spacingAndGlyphs">کد پژوهش</text><text class="l" x="-16" y="19" textLength="89" lengthAdjust="spacingAndGlyphs">سال شروع پژوهش</text><text class="l" x="-16" y="48" textLength="42" lengthAdjust="spacingAndGlyphs">کد جلسه</text><text class="l" x="-16" y="77" textLength="53" lengthAdjust="spacingAndGlyphs">تاریخ جلسه</text><text class="v" x="-116" y="-68" textLength="130" lengthAdjust="spacingAndGlyphs">پرسش و پاسخ علم و ادراک</text><text class="v" x="-160" y="-39" textLength="29" lengthAdjust="spacingAndGlyphs">فلسفی</text><text class="n" x="-102" y="-10">168</text><text class="n" x="-137" y="19">1371</text><text class="n" x="-90" y="48">1989</text><text class="n" x="-100" y="77">01/02/1372</text></g>

<g id="n22"><path class="cl" d="M298,4069a18.11,8 0 0 1 36.21,0 18.11,8 0 0 1 36.21,0 18.11,8 0 0 1 36.21,0 18.11,8 0 0 1 36.21,0 18.11,8 0 0 1 36.21,0 18.11,8 0 0 1 36.21,0 18.11,8 0 0 1 36.21,0 18.11,8 0 0 1 36.21,0 18.11,8 0 0 1 36.21,0 18.11,8 0 0 1 36.21,0 18.11,8 0 0 1 36.21,0 18.11,8 0 0 1 36.21,0 18.11,8 0 0 1 36.21,0 18.11,8 0 0 1 36.21,0a8,15.42 0 0 1 0,30.83 8,15.42 0 0 1 0,30.83 8,15.42 0 0 1 0,30.83 8,15.42 0 0 1 0,30.83 8,15.42 0 0 1 0,30.83 8,15.42 0 0 1 0,30.83a18.11,8 0 0 1 -36.21,0 18.11,8 0 0 1 -36.21,0 18.11,8 0 0 1 -36.21,0 18.11,8 0 0 1 -36.21,0 18.11,8 0 0 1 -36.21,0 18.11,8 0 0 1 -36.21,0 18.11,8 0 0 1 -36.21,0 18.11,8 0 0 1 -36.21,0 18.11,8 0 0 1 -36.21,0 18.11,8 0 0 1 -36.21,0 18.11,8 0 0 1 -36.21,0 18.11,8 0 0 1 -36.21,0 18.11,8 0 0 1 -36.21,0 18.11,8 0 0 1 -36.21,0a8,15.42 0 0 1 0,-30.83 8,15.42 0 0 1 0,-30.83 8,15.42 0 0 1 0,-30.83 8,15.42 0 0 1 0,-30.83 8,15.42 0 0 1 0,-30.83 8,15.42 0 0 1 0,-30.83z"/><g transform="translate(624,4161)"><path class="k" d="M-317,-59H-10M-248,-30H-10M-128,-1H-10M-170,28H-10M-123,57H-10M-169,86H-10M0,14H176"/><use href="#b14"/><use href="#ri"/><use href="#m" x="6" y="-1"/><text class="t" x="167" y="3.5" textLength="150" lengthAdjust="spacingAndGlyphs">توسعه و تقوم اجتماعی اختیارات</text><text class="l" x="-16" y="-68" textLength="67" lengthAdjust="spacingAndGlyphs">عنوان پژوهش</text><text class="l" x="-16" y="-39" textLength="112" lengthAdjust="spacingAndGlyphs">عنوان موضوعی پژوهش</text><text class="l" x="-16" y="-10" textLength="53" lengthAdjust="spacingAndGlyphs">کد پژوهش</text><text class="l" x="-16" y="19" textLength="89" lengthAdjust="spacingAndGlyphs">سال شروع پژوهش</text><text class="l" x="-16" y="48" textLength="42" lengthAdjust="spacingAndGlyphs">کد جلسه</text><text class="l" x="-16" y="77" textLength="53" lengthAdjust="spacingAndGlyphs">تاریخ جلسه</text><text class="v" x="-116" y="-68" textLength="196" lengthAdjust="spacingAndGlyphs">بررسی رابطه مدیریت با توسعه نظام ولایت</text><text class="v" x="-160" y="-39" textLength="83" lengthAdjust="spacingAndGlyphs">روش‌اداره-روشی</text><text class="n" x="-102" y="-10">171</text><text class="n" x="-137" y="19">1372</text><text class="n" x="-90" y="48">2001</text><text class="n" x="-100" y="77">23/04/1372</text></g></g>

<g id="n23" transform="translate(622,4355)"><path class="k" d="M-304,-59H-10M-213,-30H-10M-128,-1H-10M-170,28H-10M-123,57H-10M-169,86H-10M0,24H193"/><use href="#b24"/><use href="#ri"/><use href="#m" x="6" y="0"/><text class="t" x="188" y="-6.5" textLength="165" lengthAdjust="spacingAndGlyphs">بحث وظایف و اختیارات در جدول</text><text class="t" x="188" y="14.5" textLength="171" lengthAdjust="spacingAndGlyphs">تحلیل ( سمت راست و چپ جدول )</text><text class="l" x="-16" y="-68" textLength="67" lengthAdjust="spacingAndGlyphs">عنوان پژوهش</text><text class="l" x="-16" y="-39" textLength="112" lengthAdjust="spacingAndGlyphs">عنوان موضوعی پژوهش</text><text class="l" x="-16" y="-10" textLength="53" lengthAdjust="spacingAndGlyphs">کد پژوهش</text><text class="l" x="-16" y="19" textLength="89" lengthAdjust="spacingAndGlyphs">سال شروع پژوهش</text><text class="l" x="-16" y="48" textLength="42" lengthAdjust="spacingAndGlyphs">کد جلسه</text><text class="l" x="-16" y="77" textLength="53" lengthAdjust="spacingAndGlyphs">تاریخ جلسه</text><text class="v" x="-116" y="-68" textLength="183" lengthAdjust="spacingAndGlyphs">مباحثی پیرامون مدیریت شبکه اطلاعات</text><text class="v" x="-160" y="-39" textLength="48" lengthAdjust="spacingAndGlyphs">روش‌اداره</text><text class="n" x="-102" y="-10">265</text><text class="n" x="-137" y="19">1375</text><text class="n" x="-90" y="48">2771</text><text class="n" x="-100" y="77">23/01/1378</text></g>

<g id="n24" transform="translate(626,4529)"><path class="k" d="M-304,-59H-10M-213,-30H-10M-128,-1H-10M-170,28H-10M-123,57H-10M-169,86H-10M0,24H189"/><use href="#b24"/><use href="#ri"/><use href="#m" x="6" y="0"/><text class="t" x="184" y="-6.5" textLength="148" lengthAdjust="spacingAndGlyphs">بنیانهای فلسفی و نظری مدیریت</text><text class="t" x="184" y="14.5" textLength="167" lengthAdjust="spacingAndGlyphs">شبکه( اختیار - آگاهی - احراز و ... )</text><text class="l" x="-16" y="-68" textLength="67" lengthAdjust="spacingAndGlyphs">عنوان پژوهش</text><text class="l" x="-16" y="-39" textLength="112" lengthAdjust="spacingAndGlyphs">عنوان موضوعی پژوهش</text><text class="l" x="-16" y="-10" textLength="53" lengthAdjust="spacingAndGlyphs">کد پژوهش</text><text class="l" x="-16" y="19" textLength="89" lengthAdjust="spacingAndGlyphs">سال شروع پژوهش</text><text class="l" x="-16" y="48" textLength="42" lengthAdjust="spacingAndGlyphs">کد جلسه</text><text class="l" x="-16" y="77" textLength="53" lengthAdjust="spacingAndGlyphs">تاریخ جلسه</text><text class="v" x="-116" y="-68" textLength="183" lengthAdjust="spacingAndGlyphs">مباحثی پیرامون مدیریت شبکه اطلاعات</text><text class="v" x="-160" y="-39" textLength="48" lengthAdjust="spacingAndGlyphs">روش‌اداره</text><text class="n" x="-102" y="-10">265</text><text class="n" x="-137" y="19">1375</text><text class="n" x="-90" y="48">2809</text><text class="n" x="-100" y="77">17/11/1378</text></g>

<g id="n25" transform="translate(591,4703)"><path class="k" d="M-282,-59H-10M-281,-30H-10M-128,-1H-10M-170,28H-10M-123,57H-10M-169,86H-10M0,24H224"/><use href="#b24"/><use href="#ri"/><use href="#m" x="6" y="0"/><text class="t" x="219" y="-6.5" textLength="202" lengthAdjust="spacingAndGlyphs">بررسی اختیار در فرد و جامعه به عنوان اصل</text><text class="t" x="219" y="14.5" textLength="125" lengthAdjust="spacingAndGlyphs">در پیدایش شدت و سیاست</text><text class="l" x="-16" y="-68" textLength="67" lengthAdjust="spacingAndGlyphs">عنوان پژوهش</text><text class="l" x="-16" y="-39" textLength="112" lengthAdjust="spacingAndGlyphs">عنوان موضوعی پژوهش</text><text class="l" x="-16" y="-10" textLength="53" lengthAdjust="spacingAndGlyphs">کد پژوهش</text><text class="l" x="-16" y="19" textLength="89" lengthAdjust="spacingAndGlyphs">سال شروع پژوهش</text><text class="l" x="-16" y="48" textLength="42" lengthAdjust="spacingAndGlyphs">کد جلسه</text><text class="l" x="-16" y="77" textLength="53" lengthAdjust="spacingAndGlyphs">تاریخ جلسه</text><text class="v" x="-116" y="-68" textLength="161" lengthAdjust="spacingAndGlyphs">مدل تنظیم سیاستهای کلان سیاسی</text><text class="v" x="-160" y="-39" textLength="116" lengthAdjust="spacingAndGlyphs">روش‌اداره-سیاسی-مدل</text><text class="n" x="-102" y="-10">329</text><text class="n" x="-137" y="19">1376</text><text class="n" x="-90" y="48">3045</text><text class="n" x="-100" y="77">21/10/1376</text></g>

<g id="n26" transform="translate(558,4877)"><path class="k" d="M-189,-59H-10M-206,-30H-10M-128,-1H-10M-170,28H-10M-123,57H-10M-169,86H-10M0,24H257"/><use href="#b24"/><use href="#ri"/><use href="#m" x="6" y="0"/><text class="t" x="252" y="-6.5" textLength="234" lengthAdjust="spacingAndGlyphs">بررسی سهم اختیارات سازمانی و اجتماعی در مسئله</text><text class="t" x="252" y="14.5" textLength="236" lengthAdjust="spacingAndGlyphs">وضع و عدم قدرت تحلیل آن بوسیله منطق انتزاعی</text><text class="l" x="-16" y="-68" textLength="67" lengthAdjust="spacingAndGlyphs">عنوان پژوهش</text><text class="l" x="-16" y="-39" textLength="112" lengthAdjust="spacingAndGlyphs">عنوان موضوعی پژوهش</text><text class="l" x="-16" y="-10" textLength="53" lengthAdjust="spacingAndGlyphs">کد پژوهش</text><text class="l" x="-16" y="19" textLength="89" lengthAdjust="spacingAndGlyphs">سال شروع پژوهش</text><text class="l" x="-16" y="48" textLength="42" lengthAdjust="spacingAndGlyphs">کد جلسه</text><text class="l" x="-16" y="77" textLength="53" lengthAdjust="spacingAndGlyphs">تاریخ جلسه</text><text class="v" x="-116" y="-68" textLength="68" lengthAdjust="spacingAndGlyphs">مدیریت توسعه</text><text class="v" x="-160" y="-39" textLength="41" lengthAdjust="spacingAndGlyphs">اصول‌فقه</text><text class="n" x="-102" y="-10">360</text><text class="n" x="-137" y="19">1377</text><text class="n" x="-90" y="48">3276</text><text class="n" x="-100" y="77">14/01/1378</text></g>

<g id="n27" transform="translate(516,5051)"><path class="k" d="M-252,-59H-10M-252,-30H-10M-128,-1H-10M-170,28H-10M-123,57H-10M-169,86H-10M0,34H299"/><use href="#b34"/><use href="#ri"/><use href="#m" x="6" y="0"/><text class="t" x="294" y="-17.5" textLength="269" lengthAdjust="spacingAndGlyphs">1- عدم انحصار شناخت شناسی به منطق صوری و ضرورت</text><text class="t" x="294" y="3.5" textLength="278" lengthAdjust="spacingAndGlyphs">توجه به منطق تصرف در موضوعات 2- ضرورت ملاحظه علم</text><text class="t" x="294" y="24.5" textLength="176" lengthAdjust="spacingAndGlyphs">به عنوان بعد اختیار در شناخت شناسی</text><text class="l" x="-16" y="-68" textLength="67" lengthAdjust="spacingAndGlyphs">عنوان پژوهش</text><text class="l" x="-16" y="-39" textLength="112" lengthAdjust="spacingAndGlyphs">عنوان موضوعی پژوهش</text><text class="l" x="-16" y="-10" textLength="53" lengthAdjust="spacingAndGlyphs">کد پژوهش</text><text class="l" x="-16" y="19" textLength="89" lengthAdjust="spacingAndGlyphs">سال شروع پژوهش</text><text class="l" x="-16" y="48" textLength="42" lengthAdjust="spacingAndGlyphs">کد جلسه</text><text class="l" x="-16" y="77" textLength="53" lengthAdjust="spacingAndGlyphs">تاریخ جلسه</text><text class="v" x="-116" y="-68" textLength="131" lengthAdjust="spacingAndGlyphs">فلسفه اصول احکام حکومتی</text><text class="v" x="-160" y="-39" textLength="87" lengthAdjust="spacingAndGlyphs">اصول‌فقه-پژوهشی</text><text class="n" x="-102" y="-10">414</text><text class="n" x="-137" y="19">1378</text><text class="n" x="-90" y="48">3626</text><text class="n" x="-100" y="77">06/09/1379</text></g>

<g id="n28" transform="translate(566,5225)"><path class="k" d="M-252,-59H-10M-252,-30H-10M-128,-1H-10M-170,28H-10M-123,57H-10M-169,86H-10M0,24H249"/><use href="#b24"/><use href="#ri"/><use href="#m" x="6" y="0"/><text class="t" x="244" y="-6.5" textLength="227" lengthAdjust="spacingAndGlyphs">« نسبت » و « تناسب آن با اختیار » زیر بنا و پایگاه</text><text class="t" x="244" y="14.5" textLength="146" lengthAdjust="spacingAndGlyphs">مفاهیم حقیقی و مفاهیم اعتباری</text><text class="l" x="-16" y="-68" textLength="67" lengthAdjust="spacingAndGlyphs">عنوان پژوهش</text><text class="l" x="-16" y="-39" textLength="112" lengthAdjust="spacingAndGlyphs">عنوان موضوعی پژوهش</text><text class="l" x="-16" y="-10" textLength="53" lengthAdjust="spacingAndGlyphs">کد پژوهش</text><text class="l" x="-16" y="19" textLength="89" lengthAdjust="spacingAndGlyphs">سال شروع پژوهش</text><text class="l" x="-16" y="48" textLength="42" lengthAdjust="spacingAndGlyphs">کد جلسه</text><text class="l" x="-16" y="77" textLength="53" lengthAdjust="spacingAndGlyphs">تاریخ جلسه</text><text class="v" x="-116" y="-68" textLength="131" lengthAdjust="spacingAndGlyphs">فلسفه اصول احکام حکومتی</text><text class="v" x="-160" y="-39" textLength="87" lengthAdjust="spacingAndGlyphs">اصول‌فقه-پژوهشی</text><text class="n" x="-102" y="-10">414</text><text class="n" x="-137" y="19">1378</text><text class="n" x="-90" y="48">3644</text><text class="n" x="-100" y="77">30/11/1378</text></g>

<g id="n29" transform="translate(516,5399)"><path class="k" d="M-252,-59H-10M-252,-30H-10M-128,-1H-10M-170,28H-10M-123,57H-10M-169,86H-10M0,24H299"/><use href="#b24"/><use href="#ri"/><use href="#m" x="6" y="0"/><text class="t" x="294" y="-6.5" textLength="264" lengthAdjust="spacingAndGlyphs">تعیین جایگاه منطقی در ملاحظه ضرورت و امتناع نسبت و</text><text class="t" x="294" y="14.5" textLength="278" lengthAdjust="spacingAndGlyphs">خروج موضوعی عقلی عملی ( اختیار ) از احکام قطعی منطق</text><text class="l" x="-16" y="-68" textLength="67" lengthAdjust="spacingAndGlyphs">عنوان پژوهش</text><text class="l" x="-16" y="-39" textLength="112" lengthAdjust="spacingAndGlyphs">عنوان موضوعی پژوهش</text><text class="l" x="-16" y="-10" textLength="53" lengthAdjust="spacingAndGlyphs">کد پژوهش</text><text class="l" x="-16" y="19" textLength="89" lengthAdjust="spacingAndGlyphs">سال شروع پژوهش</text><text class="l" x="-16" y="48" textLength="42" lengthAdjust="spacingAndGlyphs">کد جلسه</text><text class="l" x="-16" y="77" textLength="53" lengthAdjust="spacingAndGlyphs">تاریخ جلسه</text><text class="v" x="-116" y="-68" textLength="131" lengthAdjust="spacingAndGlyphs">فلسفه اصول احکام حکومتی</text><text class="v" x="-160" y="-39" textLength="87" lengthAdjust="spacingAndGlyphs">اصول‌فقه-پژوهشی</text><text class="n" x="-102" y="-10">414</text><text class="n" x="-137" y="19">1378</text><text class="n" x="-90" y="48">3660</text><text class="n" x="-100" y="77">08/04/1379</text></g>

<g id="n30" transform="translate(523,5573)"><path class="k" d="M-252,-59H-10M-252,-30H-10M-128,-1H-10M-170,28H-10M-123,57H-10M-169,86H-10M0,34H292"/><use href="#b34"/><use href="#ri"/><use href="#m" x="6" y="0"/><text class="t" x="287" y="-17.5" textLength="267" lengthAdjust="spacingAndGlyphs">نقد و نقض علم حضوری بعنوان پایگاه عقل عملی بر مبنای</text><text class="t" x="287" y="3.5" textLength="270" lengthAdjust="spacingAndGlyphs">قوم و تعریف اختیار به جریان مراتب نور برای هماهنگی به</text><text class="t" x="287" y="24.5" textLength="206" lengthAdjust="spacingAndGlyphs">عنوان پایگاه عقل عملی بر مبنای نظریه مختار</text><text class="l" x="-16" y="-68" textLength="67" lengthAdjust="spacingAndGlyphs">عنوان پژوهش</text><text class="l" x="-16" y="-39" textLength="112" lengthAdjust="spacingAndGlyphs">عنوان موضوعی پژوهش</text><text class="l" x="-16" y="-10" textLength="53" lengthAdjust="spacingAndGlyphs">کد پژوهش</text><text class="l" x="-16" y="19" textLength="89" lengthAdjust="spacingAndGlyphs">سال شروع پژوهش</text><text class="l" x="-16" y="48" textLength="42" lengthAdjust="spacingAndGlyphs">کد جلسه</text><text class="l" x="-16" y="77" textLength="53" lengthAdjust="spacingAndGlyphs">تاریخ جلسه</text><text class="v" x="-116" y="-68" textLength="131" lengthAdjust="spacingAndGlyphs">فلسفه اصول احکام حکومتی</text><text class="v" x="-160" y="-39" textLength="87" lengthAdjust="spacingAndGlyphs">اصول‌فقه-پژوهشی</text><text class="n" x="-102" y="-10">414</text><text class="n" x="-137" y="19">1378</text><text class="n" x="-90" y="48">3693</text><text class="n" x="-100" y="77">15/11/1379</text></g>

<g id="n31" transform="translate(453,5747)"><path class="k" d="M-229,-59H-10M-247,-30H-10M-128,-1H-10M-170,28H-10M-123,57H-10M-169,86H-10M0,14H362"/><use href="#b14"/><use href="#ri"/><use href="#m" x="6" y="-1"/><text class="t" x="357" y="3.5" textLength="340" lengthAdjust="spacingAndGlyphs">اصل بودن درگیری درانقلاب فرهنگی بر پایه حاکمیت اختیار و نه انتخاب</text><text class="l" x="-16" y="-68" textLength="67" lengthAdjust="spacingAndGlyphs">عنوان پژوهش</text><text class="l" x="-16" y="-39" textLength="112" lengthAdjust="spacingAndGlyphs">عنوان موضوعی پژوهش</text><text class="l" x="-16" y="-10" textLength="53" lengthAdjust="spacingAndGlyphs">کد پژوهش</text><text class="l" x="-16" y="19" textLength="89" lengthAdjust="spacingAndGlyphs">سال شروع پژوهش</text><text class="l" x="-16" y="48" textLength="42" lengthAdjust="spacingAndGlyphs">کد جلسه</text><text class="l" x="-16" y="77" textLength="53" lengthAdjust="spacingAndGlyphs">تاریخ جلسه</text><text class="v" x="-116" y="-68" textLength="108" lengthAdjust="spacingAndGlyphs">مدیریت توسعه فرهنگی</text><text class="v" x="-160" y="-39" textLength="82" lengthAdjust="spacingAndGlyphs">پژوهشی-فرهنگی</text><text class="n" x="-102" y="-10">429</text><text class="n" x="-137" y="19">1378</text><text class="n" x="-90" y="48">3830</text><text class="n" x="-100" y="77">25/02/1379</text></g>

<g id="n32" transform="translate(549,5921)"><path class="k" d="M-271,-59H-10M-297,-30H-10M-128,-1H-10M-170,28H-10M-123,57H-10M-169,86H-10M0,14H266"/><use href="#b14"/><use href="#ri"/><use href="#m" x="6" y="-1"/><text class="t" x="261" y="3.5" textLength="244" lengthAdjust="spacingAndGlyphs">بررسی تأثیر مبانی فلسفی اختیار در تولید و علم تغذیه</text><text class="l" x="-16" y="-68" textLength="67" lengthAdjust="spacingAndGlyphs">عنوان پژوهش</text><text class="l" x="-16" y="-39" textLength="112" lengthAdjust="spacingAndGlyphs">عنوان موضوعی پژوهش</text><text class="l" x="-16" y="-10" textLength="53" lengthAdjust="spacingAndGlyphs">کد پژوهش</text><text class="l" x="-16" y="19" textLength="89" lengthAdjust="spacingAndGlyphs">سال شروع پژوهش</text><text class="l" x="-16" y="48" textLength="42" lengthAdjust="spacingAndGlyphs">کد جلسه</text><text class="l" x="-16" y="77" textLength="53" lengthAdjust="spacingAndGlyphs">تاریخ جلسه</text><text class="v" x="-116" y="-68" textLength="150" lengthAdjust="spacingAndGlyphs">روش تحقیق در مبانی علم تغذیه</text><text class="v" x="-160" y="-39" textLength="132" lengthAdjust="spacingAndGlyphs">آموزشی-تغذیه-روش‌تحقیق</text><text class="n" x="-102" y="-10">439</text><text class="n" x="-137" y="19">1379</text><text class="n" x="-90" y="48">3913</text><text class="n" x="-100" y="77">23/03/1379</text></g>

<g id="n33" transform="translate(547,6095)"><path class="k" d="M-249,-59H-10M-266,-30H-10M-128,-1H-10M-170,28H-10M-123,57H-10M-169,86H-10M0,14H268"/><use href="#b14"/><use href="#ri"/><use href="#m" x="6" y="-1"/><text class="t" x="263" y="3.5" textLength="244" lengthAdjust="spacingAndGlyphs">ویژگی های روش تحقیق مبتنی بر نظام فلسفی اختیار</text><text class="l" x="-16" y="-68" textLength="67" lengthAdjust="spacingAndGlyphs">عنوان پژوهش</text><text class="l" x="-16" y="-39" textLength="112" lengthAdjust="spacingAndGlyphs">عنوان موضوعی پژوهش</text><text class="l" x="-16" y="-10" textLength="53" lengthAdjust="spacingAndGlyphs">کد پژوهش</text><text class="l" x="-16" y="19" textLength="89" lengthAdjust="spacingAndGlyphs">سال شروع پژوهش</text><text class="l" x="-16" y="48" textLength="42" lengthAdjust="spacingAndGlyphs">کد جلسه</text><text class="l" x="-16" y="77" textLength="53" lengthAdjust="spacingAndGlyphs">تاریخ جلسه</text><text class="v" x="-116" y="-68" textLength="128" lengthAdjust="spacingAndGlyphs">روش تحقیق جدید (متدها)</text><text class="v" x="-160" y="-39" textLength="101" lengthAdjust="spacingAndGlyphs">آموزشی-روش‌تحقیق</text><text class="n" x="-102" y="-10">440</text><text class="n" x="-137" y="19">1379</text><text class="n" x="-90" y="48">3916</text><text class="n" x="-100" y="77">23/03/1379</text></g>

<g id="n34" transform="translate(487,6269)"><path class="k" d="M-232,-59H-10M-240,-30H-10M-128,-1H-10M-170,28H-10M-123,57H-10M-169,86H-10M0,24H328"/><use href="#b24"/><use href="#ri"/><use href="#m" x="6" y="0"/><text class="t" x="323" y="-6.5" textLength="303" lengthAdjust="spacingAndGlyphs">تعریف علم به واقع گرایی ابزار گرایی و واقع گرایی غیر واصف و</text><text class="t" x="323" y="14.5" textLength="307" lengthAdjust="spacingAndGlyphs">رد این تعاریف با تعریف علم بر اساس حاکمیت اختیار بر تولید علم</text><text class="l" x="-16" y="-68" textLength="67" lengthAdjust="spacingAndGlyphs">عنوان پژوهش</text><text class="l" x="-16" y="-39" textLength="112" lengthAdjust="spacingAndGlyphs">عنوان موضوعی پژوهش</text><text class="l" x="-16" y="-10" textLength="53" lengthAdjust="spacingAndGlyphs">کد پژوهش</text><text class="l" x="-16" y="19" textLength="89" lengthAdjust="spacingAndGlyphs">سال شروع پژوهش</text><text class="l" x="-16" y="48" textLength="42" lengthAdjust="spacingAndGlyphs">کد جلسه</text><text class="l" x="-16" y="77" textLength="53" lengthAdjust="spacingAndGlyphs">تاریخ جلسه</text><text class="v" x="-116" y="-68" textLength="111" lengthAdjust="spacingAndGlyphs">بررسی رابطه علم و دین</text><text class="v" x="-160" y="-39" textLength="75" lengthAdjust="spacingAndGlyphs">آموزشی-فلسفی</text><text class="n" x="-102" y="-10">453</text><text class="n" x="-137" y="19">1379</text><text class="n" x="-90" y="48">3960</text><text class="n" x="-100" y="77">07/08/1379</text></g>

<g id="n35" transform="translate(499,6443)"><path class="k" d="M-232,-59H-10M-240,-30H-10M-128,-1H-10M-170,28H-10M-123,57H-10M-169,86H-10M0,14H316"/><use href="#b14"/><use href="#ri"/><use href="#m" x="6" y="-1"/><text class="t" x="311" y="3.5" textLength="294" lengthAdjust="spacingAndGlyphs">حاکمیت اختیار با جبر محیطی و ملی بر فلسفه شدن در شناسایی</text><text class="l" x="-16" y="-68" textLength="67" lengthAdjust="spacingAndGlyphs">عنوان پژوهش</text><text class="l" x="-16" y="-39" textLength="112" lengthAdjust="spacingAndGlyphs">عنوان موضوعی پژوهش</text><text class="l" x="-16" y="-10" textLength="53" lengthAdjust="spacingAndGlyphs">کد پژوهش</text><text class="l" x="-16" y="19" textLength="89" lengthAdjust="spacingAndGlyphs">سال شروع پژوهش</text><text class="l" x="-16" y="48" textLength="42" lengthAdjust="spacingAndGlyphs">کد جلسه</text><text class="l" x="-16" y="77" textLength="53" lengthAdjust="spacingAndGlyphs">تاریخ جلسه</text><text class="v" x="-116" y="-68" textLength="111" lengthAdjust="spacingAndGlyphs">بررسی رابطه علم و دین</text><text class="v" x="-160" y="-39" textLength="75" lengthAdjust="spacingAndGlyphs">آموزشی-فلسفی</text><text class="n" x="-102" y="-10">453</text><text class="n" x="-137" y="19">1379</text><text class="n" x="-90" y="48">3961</text><text class="n" x="-100" y="77">10/08/1379</text></g>

<g id="connectors">
<path d="M1079,37C1095,60 1098,400 1105,1200S1130,3600 1135,3752" fill="none" stroke="#c55a5a" stroke-width="1.3"/>
<path d="M1092,110C1100,130 1104,400 1110,1200S1140,3600 1145,3745" fill="none" stroke="#b5b36b" stroke-width="1.3"/>
<path class="k" d="M1110,3808C1117,3808 1119,3796 1125,3792"/>
<path class="k" d="M970,3808C915,3808 912,795 903,795M970,3808C915,3808 912,3981 903,3981"/>
<path class="k" d="M800,281C818,281 819,795 821,795M800,495C818,495 819,795 821,795M800,709C818,709 819,795 821,795M800,922C818,922 819,795 821,795M800,1136C818,1136 819,795 821,795M815,1331C819,1331 819,795 821,795"/>
<path class="k" d="M815,1505C823,1505 823,3981 826,3981M815,1689C823,1689 823,3981 826,3981M815,1853C823,1853 823,3981 826,3981M815,2027C823,2027 823,3981 826,3981M815,2201C823,2201 823,3981 826,3981M815,2375C823,2375 823,3981 826,3981M815,2548C823,2548 823,3981 826,3981M800,2742C821,2742 823,3981 826,3981M815,2947C823,2947 823,3981 826,3981M815,3121C823,3121 823,3981 826,3981M815,3285C823,3285 823,3981 826,3981M815,3469C823,3469 823,3981 826,3981M815,3633C823,3633 823,3981 826,3981M815,3807C823,3807 823,3981 826,3981"/>
<path class="k" d="M800,4175C821,4175 823,3981 826,3981M815,4379C823,4379 823,3981 826,3981M815,4553C823,4553 823,3981 826,3981M815,4727C823,4727 823,3981 826,3981M815,4901C823,4901 823,3981 826,3981M815,5085C823,5085 823,3981 826,3981M815,5249C823,5249 823,3981 826,3981M815,5423C823,5423 823,3981 826,3981M815,5607C823,5607 823,3981 826,3981M815,5761C823,5761 823,3981 826,3981M815,5935C823,5935 823,3981 826,3981M815,6109C823,6109 823,3981 826,3981M815,6293C823,6293 823,3981 826,3981M815,6457C823,6457 823,3981 826,3981"/>
</g>

<g id="b-jozi">
<use href="#m" x="827" y="781"/>
<text class="t" x="897" y="785" textLength="59" lengthAdjust="spacingAndGlyphs">عنوان جزئی</text>
<path class="k" d="M821,795H903"/>
</g>
<g id="b-kolli">
<use href="#m" x="832" y="3968"/>
<text class="t" x="896" y="3972" textLength="53" lengthAdjust="spacingAndGlyphs">عنوان کلّی</text>
<path class="k" d="M826,3981H903"/>
</g>
<g id="src-hozavi">
<rect x="981" y="16" width="98" height="41" rx="7" fill="#c6d9f1" stroke="#c55a5a"/>
<text class="h" x="1030" y="43" textLength="82" lengthAdjust="spacingAndGlyphs">منابع حوزوی</text>
<use href="#p" x="974" y="37"/>
<rect x="958" y="57" width="144" height="20" fill="#ffff80" stroke="#999"/>
<text class="o" x="1030" y="71">اختیار در فلسفه‌های ارسطویی</text>
</g>
<g id="src-daneshgahi">
<rect x="985" y="89" width="107" height="41" rx="7" fill="#c6d9f1" stroke="#b5b36b"/>
<text class="h" x="1038" y="116" textLength="93" lengthAdjust="spacingAndGlyphs">منابع دانشگاهی</text>
<use href="#p" x="978" y="110"/>
<rect x="975" y="130.5" width="127" height="20" fill="#ffff80" stroke="#999"/>
<text class="o" x="1038" y="144.5">اختیار در فلسفه‌های غربی</text>
</g>
<g id="src-farhangestani">
<rect x="982" y="3788" width="128" height="41" rx="7" fill="#c6d9f1" stroke="#6aad6a"/>
<text class="h" x="1046" y="3815" textLength="112" lengthAdjust="spacingAndGlyphs">منابع فرهنگستانی</text>
<use href="#m" x="975" y="3808"/>
<rect x="976" y="3829" width="140" height="20" fill="#ffff80" stroke="#999"/>
<text class="o" x="1046" y="3843">اختیار در فلسفه‌ی نظام ولایت</text>
</g>
<g id="root">
<circle cx="1170" cy="3785" r="56" fill="#93e393" stroke="#5aa55a" stroke-width="1.5"/>
<text class="r" x="1170" y="3793">اختیار</text>
</g>
</svg>
